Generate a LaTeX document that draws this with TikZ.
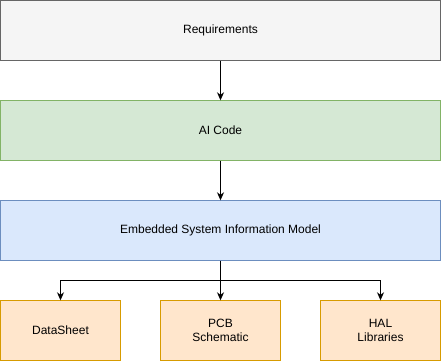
\documentclass[tikz,border=0pt]{standalone}
\usepackage{fontspec}
\setmainfont{Liberation Sans}
\usepackage{tikz}
\usetikzlibrary{arrows.meta, positioning}

\definecolor{grisfond}{HTML}{F5F5F5}
\definecolor{grisbord}{HTML}{666666}
\definecolor{vertfond}{HTML}{D5E8D4}
\definecolor{vertbord}{HTML}{82B366}
\definecolor{bleufond}{HTML}{DAE8FC}
\definecolor{bleubord}{HTML}{6C8EBF}
\definecolor{orfond}{HTML}{FFE6CC}
\definecolor{orbord}{HTML}{D79B00}

\begin{document}
\begin{tikzpicture}[
                x=1pt, y=1pt,
                every node/.style={rectangle, align=center, inner sep=0pt, font=\fontsize{12}{14}\selectfont},
                largebox/.style={draw, minimum width=440pt, minimum height=60pt},
                smallbox/.style={draw=orbord, fill=orfond, minimum width=120pt, minimum height=60pt},
                fleche/.style={draw=black, line width=1pt, -{Stealth[length=8pt, width=7pt, inset=2.5pt]}}
            ]
            \useasboundingbox (0,0) rectangle (441,-361);

            % Niveau 1 : les couches
            \node[largebox, draw=grisbord, fill=grisfond] (req) at (220.5,-30.5) {Requirements};
            \node[largebox, draw=vertbord, fill=vertfond] (aicode) at (220.5,-130.5) {AI Code};
            \node[largebox, draw=bleubord, fill=bleufond] (esim) at (220.5,-230.5) {Embedded System Information Model};

            % Niveau 2 : les sources
            \node[smallbox] (datasheet) at (60.5,-330.5) {DataSheet};
            \node[smallbox] (pcb) at (220.5,-330.5) {PCB\\Schematic};
            \node[smallbox] (hal) at (380.5,-330.5) {HAL\\Libraries};

            % Liens
            \coordinate (split) at (220.5,-280.5);
            \draw[fleche] (req) -- (aicode);
            \draw[fleche] (aicode) -- (esim);
            \draw[fleche] (esim) -- (pcb);
            \draw[fleche] (split) -| (datasheet);
            \draw[fleche] (split) -| (hal);
        \end{tikzpicture}
\end{document}
